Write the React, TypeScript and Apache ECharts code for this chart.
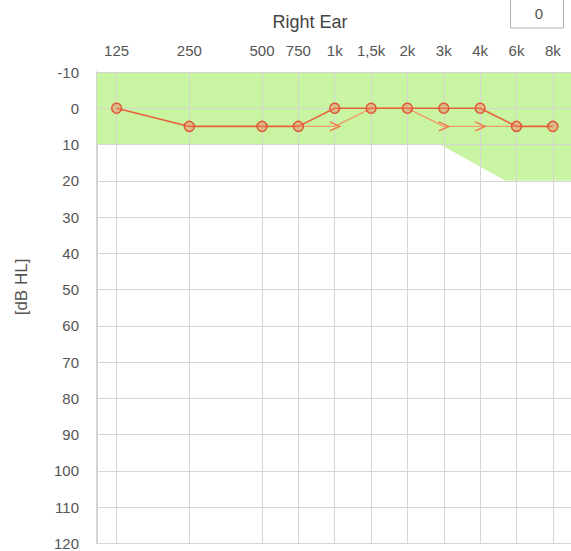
import React, { useEffect, useRef } from "react";
import * as echarts from "echarts";

const freqLabels = ["125", "250", "500", "750", "1k", "1,5k", "2k", "3k", "4k", "6k", "8k"];
const freqPos = [0, 1, 2, 2.5, 3, 3.5, 4, 4.5, 5, 5.5, 6];
const acRight: (number | null)[] = [0, 5, 5, 5, 0, 0, 0, 0, 0, 5, 5];
const bcRight: (number | null)[] = [null, null, null, 5, 5, 0, 0, 5, 5, 5, null];
const dbTicks = [-10, 0, 10, 20, 30, 40, 50, 60, 70, 80, 90, 100, 110, 120];
const bandX = [-0.4, 4.45, 5.35, 6.4];
const bandY = [10, 10, 20, 20];

export default function App() {
  const ref = useRef<HTMLDivElement>(null);
  useEffect(() => {
    document.body.style.margin = "0";
    const chart = echarts.init(ref.current!, null, { renderer: "svg" });
    const font = "'Liberation Sans', Arial, sans-serif";
    const chevron = "path://M0,0 L10,5 L0,10";
    chart.setOption({
      animation: false,
      backgroundColor: "#ffffff",
      grid: { left: 97, right: 0, top: 72, bottom: 4 },
      title: {
        text: "Right Ear",
        left: 305,
        top: 8,
        textAlign: "center",
        textStyle: { fontFamily: font, fontSize: 18, fontWeight: "normal", color: "#444" },
      },
      xAxis: {
        type: "value",
        position: "top",
        min: -0.27,
        max: 6.25,
        splitLine: { show: false },
        axisLine: { show: false },
        axisTick: { show: false },
        axisLabel: {
          customValues: freqPos,
          formatter: (v: number) => {
            const i = freqPos.indexOf(v);
            return i >= 0 ? freqLabels[i] : "";
          },
          margin: 14,
          fontFamily: font,
          fontSize: 15,
          color: "#555",
        },
      },
      yAxis: {
        type: "value",
        inverse: true,
        min: -10,
        max: 120,
        interval: 10,
        splitLine: { show: false },
        axisLine: { show: true, onZero: false, lineStyle: { color: "#c4c4c4", width: 1.5 } },
        axisTick: { show: false },
        axisLabel: { margin: 18, fontFamily: font, fontSize: 15, color: "#555" },
      },
      graphic: [
        {
          type: "text",
          x: 21,
          y: 287,
          rotation: Math.PI / 2,
          style: {
            text: "[dB HL]",
            fontFamily: font,
            fontSize: 17,
            fill: "#555",
            textAlign: "center",
            textVerticalAlign: "middle",
          },
        },
        {
          type: "rect",
          shape: { x: 510.5, y: -1, width: 53, height: 29 },
          style: { fill: "#fff", stroke: "#b0b0b0", lineWidth: 1 },
        },
        {
          type: "text",
          x: 539,
          y: 13,
          style: {
            text: "0",
            fontFamily: font,
            fontSize: 15,
            fill: "#555",
            textAlign: "center",
            textVerticalAlign: "middle",
          },
        },
      ],
      series: [
        {
          type: "line",
          z: 1,
          silent: true,
          symbol: "none",
          data: bandX.map((x, i) => [x, bandY[i]]),
          lineStyle: { width: 0 },
          areaStyle: { origin: "start", color: "#c9f5a2", opacity: 1 },
        },
        {
          type: "line",
          z: 2,
          silent: true,
          symbol: "none",
          data: [],
          markLine: {
            z: 2,
            silent: true,
            symbol: ["none", "none"],
            label: { show: false },
            lineStyle: { color: "#d6d6d6", type: "solid", width: 1 },
            data: [
              ...freqPos.map((x) => ({ xAxis: x })),
              ...dbTicks.map((y) => ({ yAxis: y })),
            ],
          },
        },
        {
          type: "line",
          z: 3,
          data: freqPos.map((x, i) => ({
            value: [x, bcRight[i]],
            symbol: bcRight[i] !== null && bcRight[i] !== acRight[i] ? chevron : "none",
          })),
          connectNulls: false,
          symbolSize: [10, 9],
          lineStyle: { color: "#f09a6a", width: 1.4 },
          itemStyle: { color: "rgba(0,0,0,0)", borderColor: "#ee7a4a", borderWidth: 1.5 },
        },
        {
          type: "line",
          z: 4,
          data: freqPos.map((x, i) => [x, acRight[i]]),
          symbol: "circle",
          symbolSize: 10,
          lineStyle: { color: "#e8603c", width: 1.6 },
          itemStyle: { color: "rgba(240,130,90,0.45)", borderColor: "#e0563a", borderWidth: 1.5 },
        },
      ],
    });
    return () => chart.dispose();
  }, []);
  return <div ref={ref} style={{ width: 571, height: 551 }} />;
}
